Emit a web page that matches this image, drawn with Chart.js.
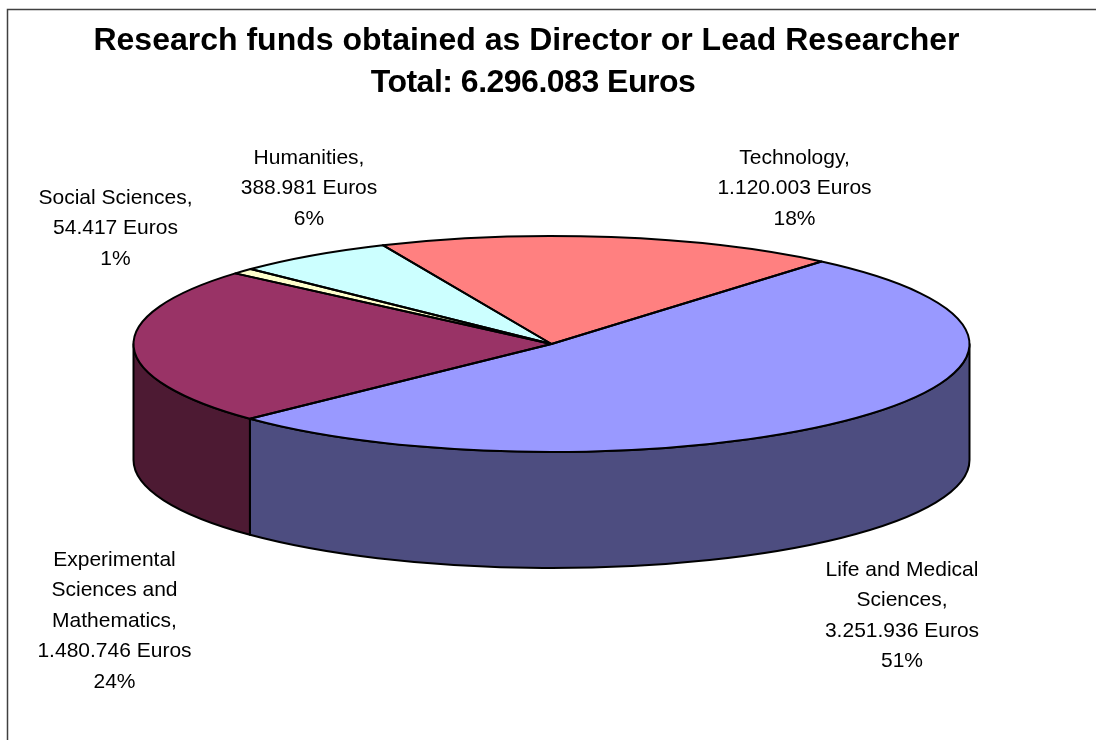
<!DOCTYPE html>
<html>
<head>
<meta charset="utf-8">
<title>Research funds</title>
<script src="https://cdn.jsdelivr.net/npm/chart.js@4/dist/chart.umd.min.js"></script>
<style>
    body { margin: 0; background: #fff; }
    canvas { display: block; }
</style>
</head>
<body>
<canvas id="chart" width="1096" height="740"></canvas>
<script>
// DATA
var titleLines = ["Research funds obtained as Director or Lead Researcher", "Total: 6.296.083 Euros"];
var categories = ["Technology", "Life and Medical Sciences", "Experimental Sciences and Mathematics", "Social Sciences", "Humanities"];
var nameLines = [["Technology,"], ["Life and Medical", "Sciences,"], ["Experimental", "Sciences and", "Mathematics,"], ["Social Sciences,"], ["Humanities,"]];
var euros = [1120003, 3251936, 1480746, 54417, 388981];
var euroLabels = ["1.120.003 Euros", "3.251.936 Euros", "1.480.746 Euros", "54.417 Euros", "388.981 Euros"];
var percentLabels = ["18%", "51%", "24%", "1%", "6%"];

// COLORS
var topColors = ["#ff8080", "#9999ff", "#993366", "#ffffcc", "#ccffff"];
var wallColors = ["#804040", "#4d4d80", "#4d1a33", "#808066", "#668080"];

// LAYOUT
var squash = 108 / 418;
var wallDepth = 116;
var titleSpots = [{ x: 526.5, y: 50, spacing: "0px" }, { x: 533, y: 92, spacing: "-0.5px" }];
var labelSpots = [
    { x: 794.5, y: 164 },
    { x: 902, y: 576 },
    { x: 114.5, y: 566 },
    { x: 115.5, y: 204 },
    { x: 309, y: 164 },
];

// 3D PIE: the library lays out the arcs, this squashes them and adds the wall
var pie3d = {
    id: "pie3d",
    beforeDraw: function (chart) {
        var c = chart.ctx;
        c.save();
        c.strokeStyle = "#404040";
        c.lineWidth = 1.5;
        c.beginPath();
        c.moveTo(7.5, 740);
        c.lineTo(7.5, 9.5);
        c.lineTo(1096, 9.5);
        c.stroke();
        c.restore();
    },
    beforeDatasetDraw: function (chart) {
        var c = chart.ctx;
        var arcs = chart.getDatasetMeta(0).data;
        c.save();
        c.lineWidth = 2;
        c.strokeStyle = "#000";
        c.lineJoin = "round";
        arcs.forEach(function (arc, i) {
            var from = Math.max(arc.startAngle, 0);
            var to = Math.min(arc.endAngle, Math.PI);
            if (to <= from) return;
            var rx = arc.outerRadius;
            var ry = rx * squash;
            c.beginPath();
            c.ellipse(arc.x, arc.y, rx, ry, 0, from, to);
            c.ellipse(arc.x, arc.y + wallDepth, rx, ry, 0, to, from, true);
            c.closePath();
            c.fillStyle = wallColors[i];
            c.fill();
            c.stroke();
        });
        c.restore();

        // squash the top face
        var a = arcs[0];
        c.save();
        c.translate(a.x, a.y);
        c.scale(1, squash);
        c.translate(-a.x, -a.y);
    },
    afterDatasetDraw: function (chart) {
        var c = chart.ctx;
        c.restore();
        c.save();
        c.lineWidth = 2;
        c.strokeStyle = "#000";
        c.lineJoin = "round";
        chart.getDatasetMeta(0).data.forEach(function (arc) {
            var rx = arc.outerRadius;
            c.beginPath();
            c.moveTo(arc.x, arc.y);
            c.ellipse(arc.x, arc.y, rx, rx * squash, 0, arc.startAngle, arc.endAngle);
            c.closePath();
            c.stroke();
        });
        c.restore();
    },
    afterDraw: function (chart) {
        var c = chart.ctx;
        c.save();
        c.fillStyle = "#000";
        c.textAlign = "center";
        c.textBaseline = "alphabetic";

        // TITLE
        c.font = "bold 32px 'Liberation Sans'";
        titleLines.forEach(function (line, i) {
            c.letterSpacing = titleSpots[i].spacing;
            c.fillText(line, titleSpots[i].x, titleSpots[i].y);
        });
        c.letterSpacing = "0px";

        // SLICE LABELS
        c.font = "21px 'Liberation Sans'";
        categories.forEach(function (name, i) {
            var lines = nameLines[i].concat(euroLabels[i], percentLabels[i]);
            lines.forEach(function (line, n) {
                c.fillText(line, labelSpots[i].x, labelSpots[i].y + n * 30.4);
            });
        });
        c.restore();
    },
};

var myChart = new Chart(document.getElementById("chart"), {
    type: "pie",
    data: {
        labels: categories,
        datasets: [
            {
                data: euros,
                backgroundColor: topColors,
                borderWidth: 0,
                clip: false,
            },
        ],
    },
    options: {
        responsive: false,
        animation: false,
        radius: 418,
        rotation: -23.8,
        layout: { padding: { left: 7, bottom: 52 } },
        plugins: {
            legend: { display: false },
            tooltip: { enabled: false },
        },
    },
    plugins: [pie3d],
});
</script>
</body>
</html>
